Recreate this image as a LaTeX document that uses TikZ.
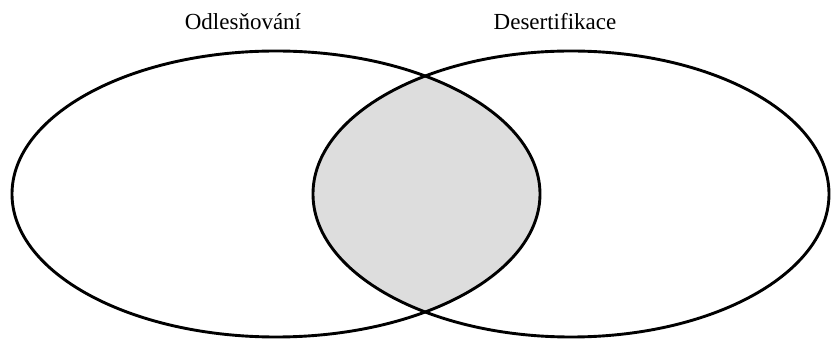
\documentclass[tikz,border=0pt]{standalone}
\usepackage{fontspec}
\setmainfont{Liberation Serif}
\definecolor{overlapgray}{RGB}{221,221,221}

\begin{document}
\begin{tikzpicture}[
        x = 1pt, y = 1pt,
        set/.style = {draw = black, line width = 2.9pt},
        setlabel/.style = {anchor = base, inner sep = 0pt,
                           font = \fontsize{23}{27}\selectfont}
    ]

    \useasboundingbox (0,0) rectangle (831,340);

    \coordinate (odl) at (276,146);
    \coordinate (des) at (571,146);

    % overlap of the two sets
    \begin{scope}
        \clip (odl) ellipse [x radius = 264, y radius = 143];
        \fill[overlapgray] (des) ellipse [x radius = 258, y radius = 143];
    \end{scope}

    \draw[set] (odl) ellipse [x radius = 264, y radius = 143];
    \draw[set] (des) ellipse [x radius = 258, y radius = 143];

    \node[setlabel] (odllabel) at (243,310) {Odlesňování};
    \node[setlabel] (deslabel) at (555,310) {Desertifikace};

\end{tikzpicture}
\end{document}
